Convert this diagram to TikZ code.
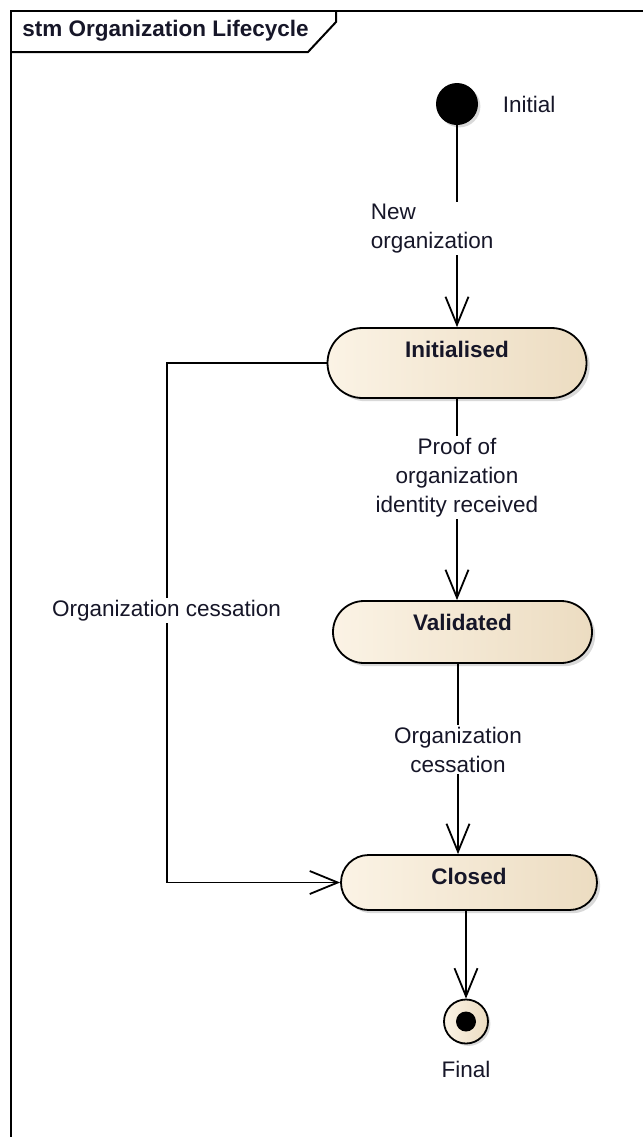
\documentclass[tikz,border=0pt]{standalone}
\usepackage{fontspec}
\setmainfont{Liberation Sans}
\usetikzlibrary{positioning,shapes.misc,shadows,arrows.meta}
\definecolor{stateleft}{RGB}{251,243,229}
\definecolor{stateright}{RGB}{236,220,193}
\definecolor{labeltext}{RGB}{22,22,40}
\tikzset{
  state/.style={draw,line width=0.9pt,rounded rectangle,inner sep=0pt,left color=stateleft,right color=stateright,
    drop shadow={shadow xshift=1.6pt,shadow yshift=-1.6pt,opacity=0.3}},
  statetext/.style={font=\fontsize{11.25}{14.5}\selectfont\bfseries,text=labeltext,inner sep=0pt},
  edgelabel/.style={font=\fontsize{11.25}{14.5}\selectfont,fill=white,text=labeltext,inner sep=1pt,align=center},
  initstate/.style={circle,fill=black,minimum size=21pt,inner sep=0pt,
    drop shadow={shadow xshift=1.2pt,shadow yshift=-1.2pt,opacity=0.3}},
  finalstate/.style={circle,draw,line width=0.9pt,minimum size=22pt,inner sep=0pt,left color=stateleft,right color=stateright,
    drop shadow={shadow xshift=1.2pt,shadow yshift=-1.2pt,opacity=0.3}},
  trans/.style={line width=0.9pt,-{Straight Barb[length=14pt,width=11.5pt,line width=0.9pt]}},
}
\begin{document}
\begin{tikzpicture}[x=0.5pt,y=-0.5pt]
        \useasboundingbox (0,0) rectangle (643,1137);
        %% Frame
        \draw[line width=1pt] (11,1160) -- (11,11) -- (670,11);
        \draw[line width=1pt] (336,11) -- (336,22) -- (308,52) -- (11,52);
        \node[statetext,anchor=west] (title) at (22,31) {stm Organization Lifecycle};
        %% States
        \node[initstate] (init) at (457,104) {};
        \node[edgelabel,fill=none,right=11pt of init] (initlbl) {Initial};
        \node[state,minimum width=129.5pt,minimum height=35pt] (initialised) at (457,363) {};
        \node[statetext,below=11pt of initialised.north,anchor=center] (initialisedlbl) {Initialised};
        \node[state,minimum width=129.5pt,minimum height=31pt] (validated) at (462.5,632) {};
        \node[statetext,below=11pt of validated.north,anchor=center] (validatedlbl) {Validated};
        \node[state,minimum width=128pt,minimum height=27.5pt] (closed) at (469,882.5) {};
        \node[statetext,below=11pt of closed.north,anchor=center] (closedlbl) {Closed};
        \node[finalstate] (final) at (466,1021.5) {};
        \fill (final.center) circle[radius=5pt];
        \node[edgelabel,fill=none,below=7pt of final] (finallbl) {Final};
        %% Transitions
        \draw[trans] (init) -- (init |- initialised.north)
            node[edgelabel,align=left,anchor=west,pos=0.51,xshift=-44.5pt] (newlbl) {New\\organization};
        \draw[trans] (initialised) -- (initialised |- validated.north)
            node[edgelabel,pos=0.39] (prooflbl) {Proof of\\organization\\identity received};
        \draw[trans] ([xshift=-2.25pt]validated.south) -- ([xshift=-2.25pt]validated.south |- closed.north)
            node[edgelabel,pos=0.45] (cessationlbl) {Organization\\cessation};
        \draw[trans] (initialised.west) -- ++(-160,0) |- (closed.west)
            node[edgelabel,pos=0.238] (leftlbl) {Organization cessation};
        \draw[trans] (final |- closed.south) -- (final);
    \end{tikzpicture}
\end{document}
